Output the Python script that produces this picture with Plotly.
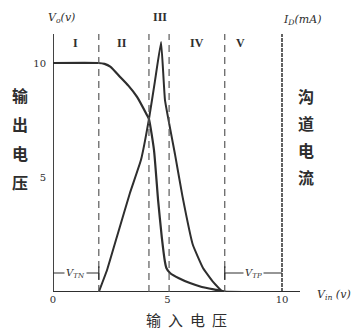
import plotly.graph_objects as go

# ---------------- data ----------------
vin_vo = [0, 1.97, 2.25, 2.5, 2.93, 3.3, 3.67, 4.10, 4.19, 4.41, 4.59, 4.75, 4.89, 4.95, 5.11, 5.5, 5.98, 6.5, 7.16, 7.5, 8.3]
vo = [10, 10, 9.96, 9.84, 9.39, 9.0, 8.52, 7.73, 7.55, 6.2, 4.0, 2.4, 1.31, 1.05, 0.83, 0.6, 0.39, 0.22, 0.09, 0.02, 0]

vin_id = [2.0, 2.36, 2.84, 3.36, 3.84, 4.19, 4.45, 4.72, 4.89, 5.33, 5.65, 6.11, 6.55, 6.99, 7.4]
id_ma = [0, 0.96, 2.58, 4.32, 5.76, 7.55, 9.2, 10.92, 8.38, 6.0, 4.2, 2.05, 1.05, 0.44, 0]

region_bounds = [2.0, 4.19, 5.07, 7.5]        # dashed region boundaries (V)
region_labels = ["I", "II", "III", "IV", "V"]
region_centers = [1.0, 3.0, 4.67, 6.3, 8.17]

x_ticks = [0, 5, 10]
x_ticktext = ["0", "5", "10"]
y_ticks = [5, 10]
y_ticktext = ["5", "10"]

vtn = 2.0
vdd = 10.0

left_title = "输出电压"
right_title = "沟道电流"
bottom_title = "输入电压"

# ---------------- layout helpers ----------------
OFF = 8                      # page body margin of the browser
FW, FH = 360 - OFF, 331 - OFF
PX = 22.9                    # pixels per volt
X0, Y0 = 53 - OFF, 292 - OFF  # origin inside the figure
PW, PH = FW - X0, Y0


def dy(py):
    return (Y0 - (py - OFF)) / PX


def dx(px):
    return ((px - OFF) - X0) / PX


def paper_x(px):
    return ((px - OFF) - X0) / PW


def paper_y(py):
    return (Y0 - (py - OFF)) / PH


INK = "#2e2e2e"
DASH = "#5a5a5a"

fig = go.Figure()

fig.add_trace(go.Scatter(x=vin_vo, y=vo, mode="lines",
                         line=dict(color=INK, width=2.2, shape="spline", smoothing=0.5),
                         hoverinfo="skip"))
fig.add_trace(go.Scatter(x=vin_id, y=id_ma, mode="lines",
                         line=dict(color=INK, width=2.0, shape="spline", smoothing=0.3),
                         hoverinfo="skip"))

shapes = []
top = dy(34)
# axes
shapes.append(dict(type="line", xref="x", yref="y", x0=0, x1=0, y0=0, y1=top,
                   line=dict(color=INK, width=1.8)))
shapes.append(dict(type="line", xref="x", yref="y", x0=0, x1=dx(300), y0=0, y1=0,
                   line=dict(color=INK, width=1.8)))
shapes.append(dict(type="line", xref="x", yref="y", x0=vdd, x1=vdd, y0=0, y1=top,
                   line=dict(color=INK, width=1.5, dash="4px,1px")))
# region boundaries
for xb in region_bounds:
    shapes.append(dict(type="line", xref="x", yref="y", x0=xb, x1=xb, y0=0, y1=top,
                       line=dict(color=DASH, width=1.2, dash="7px,5px")))
# y ticks
for yt in y_ticks:
    shapes.append(dict(type="line", xref="x", yref="y", x0=dx(49), x1=0, y0=yt, y1=yt,
                       line=dict(color=INK, width=1.5)))
# V_TN / V_TP brackets
yb = dy(273)
shapes.append(dict(type="line", xref="x", yref="y", x0=0, x1=vtn, y0=yb, y1=yb,
                   line=dict(color=INK, width=1.2)))
shapes.append(dict(type="line", xref="x", yref="y", x0=region_bounds[3], x1=vdd, y0=yb, y1=yb,
                   line=dict(color=INK, width=1.2)))
shapes.append(dict(type="line", xref="x", yref="y", x0=vtn, x1=vtn, y0=yb - 0.3, y1=yb + 0.3,
                   line=dict(color=INK, width=1.2)))
shapes.append(dict(type="line", xref="x", yref="y", x0=region_bounds[3], x1=region_bounds[3],
                   y0=yb - 0.3, y1=yb + 0.3, line=dict(color=INK, width=1.2)))

ann = []
ital = dict(family="DejaVu Serif", size=11, color=INK)


def txt(px, py, text, font, bg=None):
    d = dict(x=paper_x(px), y=paper_y(py), xref="paper", yref="paper", text=text,
             showarrow=False, font=font, xanchor="center", yanchor="middle")
    if bg:
        d["bgcolor"] = bg
    ann.append(d)


def px_of(xv):
    return 53 + xv * PX


txt(61, 18, "<i>V<sub>o</sub>(v)</i>", ital)
txt(302, 20, "<i>I<sub>D</sub>(mA)</i>", ital)
txt(334, 295, "<i>V<sub>in</sub> (v)</i>", ital)
txt(px_of(vtn / 2), 273, "<i>V<sub>TN</sub></i>", dict(family="DejaVu Serif", size=10, color=INK), bg="white")
txt(px_of((region_bounds[3] + vdd) / 2), 273, "<i>V<sub>TP</sub></i>",
    dict(family="DejaVu Serif", size=10, color=INK), bg="white")

for lab, xc in zip(region_labels, region_centers):
    ypos = 17 if lab == "III" else 43
    txt(px_of(xc), ypos, "<b>" + lab + "</b>", dict(family="Liberation Serif", size=12, color=INK))

cjk = dict(family="Noto Sans CJK SC", size=16, color=INK)
for i, ch in enumerate(left_title):
    txt(20, 95 + i * 29, "<b>" + ch + "</b>", cjk)
for i, ch in enumerate(right_title):
    txt(306, 96 + i * 27, "<b>" + ch + "</b>", cjk)
for i, ch in enumerate(bottom_title):
    txt(153 + i * 22, 319, ch, dict(family="Noto Sans CJK SC", size=15, color=INK))

fig.update_layout(
    width=FW, height=FH,
    margin=dict(l=X0, r=0, t=0, b=FH - Y0, autoexpand=False),
    paper_bgcolor="white", plot_bgcolor="white",
    showlegend=False,
    shapes=shapes, annotations=ann,
    xaxis=dict(range=[0, PW / PX], showgrid=False, zeroline=False, showline=False,
               automargin=False,
               tickmode="array", tickvals=x_ticks, ticktext=x_ticktext, ticks="",
               tickfont=dict(family="DejaVu Serif", size=10, color=INK)),
    yaxis=dict(range=[0, PH / PX], showgrid=False, zeroline=False, showline=False,
               automargin=False,
               tickmode="array", tickvals=y_ticks, ticktext=y_ticktext, ticks="",
               ticklabelstandoff=6,
               tickfont=dict(family="DejaVu Serif", size=10, color=INK)),
)

fig.write_html("out.html")
